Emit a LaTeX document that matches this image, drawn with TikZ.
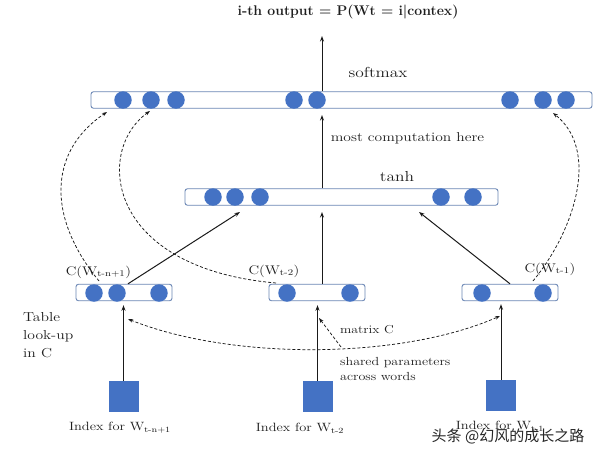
\documentclass[tikz,border=0pt]{standalone}
\usepackage{fontspec}
\usepackage{graphicx}
\usetikzlibrary{arrows.meta}
\newfontfamily\cjk{Noto Sans CJK SC}
\definecolor{dotc}{HTML}{4472C4}
\definecolor{barc}{HTML}{6A86B4}
\definecolor{txtc}{HTML}{1E1E1E}
\definecolor{linec}{HTML}{1A1A1A}
\newcommand{\mywide}[1]{\scalebox{1.2}[1]{#1}}
\newcommand{\fsz}[1]{\fontsize{#1}{#1}\selectfont}
\begin{document}
\begin{tikzpicture}[x=1pt,y=-1pt,
  bar/.style={draw=barc, line width=0.9pt, rounded corners=2.5pt, fill=white, minimum height=16.5pt, inner sep=0pt},
  dot/.style={circle, fill=dotc, minimum size=17.5pt, inner sep=0pt},
  sq/.style={fill=dotc, minimum width=30pt, minimum height=31pt, inner sep=0pt},
  txt/.style={text=txtc, inner sep=0pt},
  arr/.style={draw=linec, line width=1pt, -{Stealth[length=5.5pt,width=4pt]}},
  darr/.style={draw=linec, line width=0.75pt, dash pattern=on 3pt off 2pt, -{Stealth[length=5pt,width=3.6pt]}},
]
\useasboundingbox[fill=white] (0,0) rectangle (598,456);

% bars
\node[bar, minimum width=501pt] (sbar) at (341.5,100) {};
\node[bar, minimum width=313pt] (tbar) at (341.5,197) {};
\node[bar, minimum width=96pt] (lbar) at (124,292.5) {};
\node[bar, minimum width=96pt] (mbar) at (317,292.5) {};
\node[bar, minimum width=96pt] (rbar) at (510,292.5) {};

% units
\foreach \x [count=\i] in {123,151,176,294,317,510,543,566} \node[dot] (s\i) at (\x,100) {};
\foreach \x [count=\i] in {213,235,260,441,473} \node[dot] (t\i) at (\x,197) {};
\foreach \x [count=\i] in {94,117,159} \node[dot] (l\i) at (\x,293) {};
\foreach \x [count=\i] in {287,350} \node[dot] (m\i) at (\x,293) {};
\foreach \x [count=\i] in {482,543} \node[dot] (r\i) at (\x,293) {};

% index squares
\node[sq] (lsq) at (123.5,396.5) {};
\node[sq] (msq) at (317.5,396.5) {};
\node[sq] (rsq) at (501,395.5) {};

% texts
\node[txt, font=\fsz{14}\bfseries] (title) at (348,12) {i-th output = P(Wt = i|contex)};
\node[txt, font=\fsz{14.5}] (smx) at (378,72) {\mywide{softmax}};
\node[txt, font=\fsz{12.9}] (mch) at (407.5,138) {\mywide{most computation here}};
\node[txt, font=\fsz{14.5}] (tanh) at (397,177) {\mywide{tanh}};
\node[txt, font=\fsz{12.5}] (cl) at (98.5,272) {\mywide{C(W\textsubscript{t-n+1})}};
\node[txt, font=\fsz{12.5}] (cm) at (274,271) {\mywide{C(W\textsubscript{t-2})}};
\node[txt, font=\fsz{12.5}] (cr) at (550,269) {\mywide{C(W\textsubscript{t-1})}};
\node[txt, font=\fsz{13}, align=left, anchor=west] (tab) at (23,335)
  {\mywide{Table}\\[5pt]\mywide{look-up}\\[5pt]\mywide{in C}};
\node[txt, font=\fsz{11.5}] (mc) at (367,330) {\mywide{matrix C}};
\node[txt, font=\fsz{11.7}, align=left, anchor=west] (shp) at (340,369)
  {\mywide{shared parameters}\\[2.5pt]\mywide{across words}};
\node[txt, font=\fsz{12}] (il) at (120,428) {\mywide{Index for W\textsubscript{t-n+1}}};
\node[txt, font=\fsz{12}] (im) at (300,428) {\mywide{Index for W\textsubscript{t-2}}};
\node[txt, font=\fsz{12}] (ir) at (500,426) {\mywide{Index for W\textsubscript{t-1}}};
\node[inner sep=0pt, font=\cjk\fsz{15}, text=black!85] (wm) at (508,436) {头条 @幻风的成长之路};

% solid connectors
\coordinate (outtip) at (322,36);
\draw[arr] (outtip |- sbar.north) -- (outtip);
\coordinate (smxin) at (322,115);
\draw[arr] (smxin |- tbar.north) -- (smxin);
\coordinate (tinL) at (240,212);
\coordinate (tinM) at (322,212);
\coordinate (tinR) at (419,212);
\coordinate (loutc) at ([xshift=4pt]lbar.north);
\coordinate (moutc) at ([xshift=5pt]mbar.north);
\coordinate (routc) at (rbar.north);
\draw[arr] (loutc) -- (tinL);
\draw[arr] (moutc) -- (tinM);
\draw[arr] (routc) -- (tinR);
\draw[arr, shorten >=4pt] (lsq.north) -- (lsq.north |- lbar.south);
\draw[arr, shorten >=4pt] (msq.north) -- (msq.north |- mbar.south);
\draw[arr, shorten >=3pt] (rsq.north) -- (rsq.north |- rbar.south);

% dashed connectors
\coordinate (l1s) at (99,281);
\coordinate (l1e) at (107,112);
\draw[darr] (l1s) .. controls (45,215) and (50,150) .. (l1e);
\coordinate (l2s) at (276,283);
\coordinate (l2e) at (150,111);
\draw[darr] (l2s) .. controls (105,268) and (95,150) .. (l2e);
\coordinate (r1s) at (533,281);
\coordinate (r1e) at (553,113);
\draw[darr] (r1s) .. controls (575,230) and (600,150) .. (r1e);
\coordinate (lkl) at (128,319);
\coordinate (lkr) at (500,316);
\draw[darr, <->, >={Stealth[length=5pt,width=3.6pt]}] (lkl) .. controls (230,360) and (400,360) .. (lkr);
\coordinate (mcs) at (341,347);
\coordinate (mce) at (319,318);
\draw[darr] (mcs) -- (mce);
\end{tikzpicture}
\end{document}
